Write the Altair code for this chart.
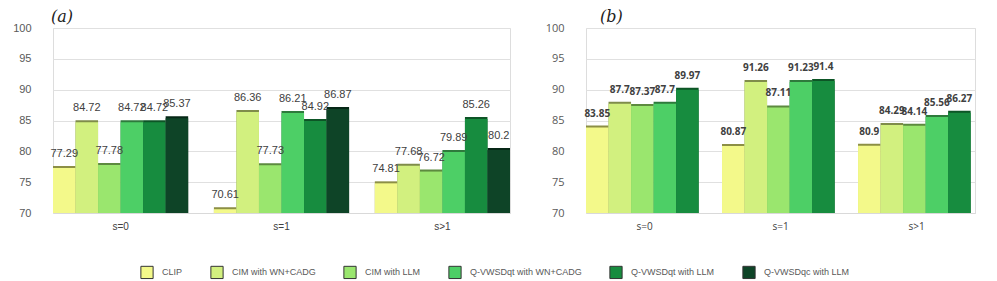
import altair as alt
import pandas as pd

groups = ["s=0", "s=1", "s>1"]
series = ["CLIP", "CIM with WN+CADG", "CIM with LLM",
          "Q-VWSDqt with WN+CADG", "Q-VWSDqt with LLM", "Q-VWSDqc with LLM"]

# panel (a)
a_clip = [77.29, 70.61, 74.81]
a_cim_wn = [84.72, 86.36, 77.68]
a_cim_llm = [77.78, 77.73, 76.72]
a_qt_wn = [84.72, 86.21, 79.89]
a_qt_llm = [84.72, 84.92, 85.26]
a_qc_llm = [85.37, 86.87, 80.2]

# panel (b)
b_clip = [83.85, 80.87, 80.9]
b_cim_wn = [87.7, 91.26, 84.29]
b_cim_llm = [87.37, 87.11, 84.14]
b_qt_wn = [87.7, 91.23, 85.56]
b_qt_llm = [89.97, 91.4, 86.27]

front_colors = ["#f3f98a", "#d2f07f", "#9ae66e", "#4dcf66", "#178c3f", "#0e4427"]
side_colors = ["#8c8f45", "#7f8c4a", "#5d8a3f", "#2e7a3c", "#0d5526", "#062716"]


def make_df(cols):
    rows = []
    for s_idx, vals in enumerate(cols):
        for g, v in zip(groups, vals):
            rows.append({"group": g, "series": series[s_idx], "value": v,
                         "side": side_colors[s_idx]})
    return pd.DataFrame(rows)


df_a = make_df([a_clip, a_cim_wn, a_cim_llm, a_qt_wn, a_qt_llm, a_qc_llm])
df_b = make_df([b_clip, b_cim_wn, b_cim_llm, b_qt_wn, b_qt_llm])

color_scale = alt.Scale(domain=series, range=front_colors)


def panel(df, title, title_dx, width, pad_inner, label_font, label_weight, label_size):
    n = df["series"].nunique()
    xenc = alt.X("group:N", sort=groups, title=None,
                 scale=alt.Scale(paddingInner=pad_inner, paddingOuter=0),
                 axis=alt.Axis(labelAngle=0, ticks=False, domainColor="#d9d9d9",
                               labelFont=label_font,
                               labelFontSize=10, labelColor="#404040", labelPadding=8))
    xoff = alt.XOffset("series:N", sort=series[:n],
                       scale=alt.Scale(paddingInner=0, paddingOuter=0))
    yenc = alt.Y("value:Q", title=None,
                 scale=alt.Scale(domain=[70, 100], zero=False, nice=False),
                 axis=alt.Axis(values=[70, 75, 80, 85, 90, 95, 100], ticks=False,
                               domain=False, gridColor="#e0e0e0",
                               labelFont=label_font,
                               labelFontSize=11, labelColor="#595959", labelPadding=22))
    base = alt.Chart(df)
    side = base.mark_bar(xOffset=5, yOffset=-2).encode(
        x=xenc, xOffset=xoff, y=yenc, y2=alt.datum(70),
        fill=alt.Fill("side:N", scale=None, legend=None))
    front = base.mark_bar().encode(
        x=xenc, xOffset=xoff, y=yenc, y2=alt.datum(70),
        color=alt.Color("series:N", scale=color_scale, sort=series,
                        legend=alt.Legend(title=None, orient="none", direction="horizontal",
                                          columns=6, legendX=87, legendY=237,
                                          symbolType="square", symbolSize=150,
                                          symbolStrokeColor="#333333", symbolStrokeWidth=1,
                                          symbolOpacity=1, labelFontSize=9,
                                          labelFont="Liberation Sans",
                                          labelColor="#595959", labelOffset=8,
                                          columnPadding=25)))
    text = base.mark_text(dy=-9, baseline="bottom", font=label_font,
                          fontWeight=label_weight, fontSize=label_size,
                          color="#404040").encode(
        x=xenc, xOffset=xoff, y=yenc, text=alt.Text("value:Q"))
    return alt.layer(side, front, text).properties(
        width=width, height=185,
        title=alt.TitleParams(title, anchor="start", frame="group", dx=title_dx,
                              font="DejaVu Serif", fontStyle="italic",
                              fontWeight="normal", fontSize=16, offset=-3,
                              color="#222222"))


pa = panel(df_a, "(a)", -2, 457, 0.16, "Liberation Sans", "normal", 11)
pb = panel(df_b, "(b)", 14, 389, 0.14, "Open Sans", "bold", 10)

chart = alt.hconcat(pa, pb, spacing=33).properties(
    padding={"left": 4, "top": 0, "right": 0, "bottom": 0}
).configure_view(stroke=None).configure(background="white")

chart.save("out.html", embed_options={"renderer": "svg", "actions": False})
